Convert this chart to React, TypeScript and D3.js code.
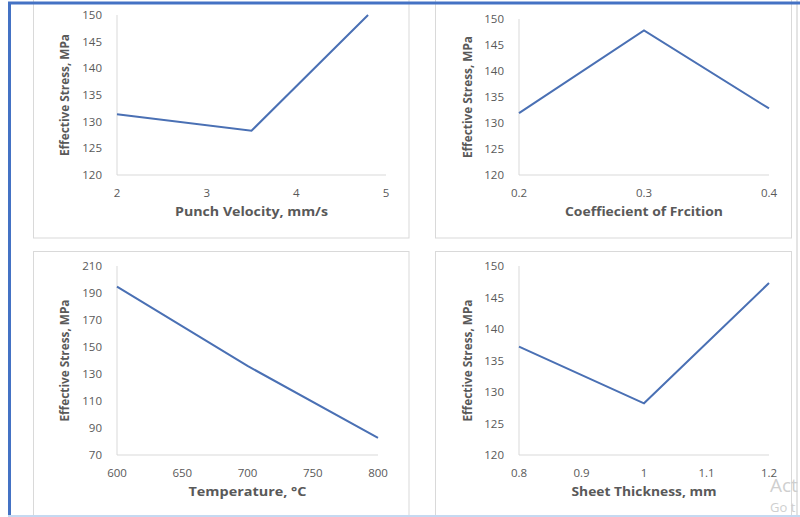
import React from "react";
import * as d3 from "d3";

// ---- data ----
const velocityX = [2, 3.5, 4.8];
const velocityY = [131.4, 128.3, 150];
const velocityTicks = [2, 3, 4, 5];

const frictionX = [0.2, 0.3, 0.4];
const frictionY = [131.9, 147.8, 132.8];
const frictionTicks = [0.2, 0.3, 0.4];

const temperatureX = [600, 700, 800];
const temperatureY = [194.7, 136, 82.6];
const temperatureTicks = [600, 650, 700, 750, 800];
const temperatureYTicks = [70, 90, 110, 130, 150, 170, 190, 210];

const thicknessX = [0.8, 1, 1.2];
const thicknessY = [137.2, 128.2, 147.3];
const thicknessTicks = [0.8, 0.9, 1, 1.1, 1.2];

const stressTicks = [120, 125, 130, 135, 140, 145, 150];

const yTitle = "Effective Stress, MPa";
const xTitles = [
  "Punch Velocity, mm/s",
  "Coeffiecient of Frcition",
  "Temperature, \u00B0C",
  "Sheet Thickness, mm",
];

// ---- layout / style ----
const W = 800;
const H = 517;
const TEXT = "#595959";
const AXIS = "#d9d9d9";
const LINE = "#4a70b4";
const FONT = "'Open Sans', 'Noto Sans', sans-serif";

type PanelProps = {
  xs: number[];
  ys: number[];
  xTicks: number[];
  yTicks: number[];
  left: number;
  right: number;
  top: number;
  bottom: number;
  title: string;
  titleLen: number;
  yTitleX: number;
};

function Panel(p: PanelProps) {
  const x = d3
    .scaleLinear()
    .domain([p.xTicks[0], p.xTicks[p.xTicks.length - 1]])
    .range([p.left, p.right]);
  const y = d3
    .scaleLinear()
    .domain([p.yTicks[0], p.yTicks[p.yTicks.length - 1]])
    .range([p.bottom, p.top]);
  const pts: [number, number][] = p.xs.map((v, i) => [v, p.ys[i]]);
  const line = d3
    .line<[number, number]>()
    .x((d) => x(d[0]))
    .y((d) => y(d[1]));
  const midY = (p.top + p.bottom) / 2;
  return (
    <g>
      <line x1={p.left} x2={p.left} y1={p.top} y2={p.bottom} stroke={AXIS} strokeWidth={1} />
      <line x1={p.left} x2={p.right} y1={p.bottom} y2={p.bottom} stroke={AXIS} strokeWidth={1} />
      {p.yTicks.map((t) => (
        <text
          key={"y" + t}
          x={p.left - 15}
          y={y(t)}
          dy="0.35em"
          textAnchor="end"
          fontSize={11.5}
          fill={TEXT}
          fontFamily={FONT}
        >
          {String(t)}
        </text>
      ))}
      {p.xTicks.map((t) => (
        <text
          key={"x" + t}
          x={x(t)}
          y={p.bottom + 18}
          dy="0.35em"
          textAnchor="middle"
          fontSize={11.5}
          fill={TEXT}
          fontFamily={FONT}
        >
          {String(t)}
        </text>
      ))}
      <text
        x={(p.left + p.right) / 2}
        y={p.bottom + 37}
        dy="0.35em"
        textAnchor="middle"
        fontSize={12.5}
        fontWeight="bold"
        fill={TEXT}
        fontFamily={FONT}
        textLength={p.titleLen}
        lengthAdjust="spacingAndGlyphs"
      >
        {p.title}
      </text>
      <text
        transform={`translate(${p.yTitleX},${midY}) rotate(-90)`}
        dy="0.35em"
        textAnchor="middle"
        fontSize={12}
        fontWeight="bold"
        fill={TEXT}
        fontFamily={FONT}
        textLength={122}
        lengthAdjust="spacingAndGlyphs"
      >
        {yTitle}
      </text>
      <path d={line(pts) || ""} fill="none" stroke={LINE} strokeWidth={2} strokeLinejoin="miter" />
    </g>
  );
}

export default function App() {
  return (
    <svg
      width={W}
      height={H}
      style={{ position: "absolute", left: 0, top: 0, background: "#fff" }}
    >
      <rect x={0} y={0} width={W} height={H} fill="#ffffff" />
      {/* cards */}
      <rect x={33.5} y={-2} width={375.5} height={240} fill="#fff" stroke={AXIS} strokeWidth={1} />
      <rect x={435.5} y={-2} width={356} height={240} fill="#fff" stroke={AXIS} strokeWidth={1} />
      <rect x={33.5} y={251.5} width={375.5} height={280} fill="#fff" stroke={AXIS} strokeWidth={1} />
      <rect x={435.5} y={251.5} width={356} height={280} fill="#fff" stroke={AXIS} strokeWidth={1} />
      <rect x={796} y={0} width={2} height={H} fill="#e4e4e4" />

      <Panel
        xs={velocityX}
        ys={velocityY}
        xTicks={velocityTicks}
        yTicks={stressTicks}
        left={117}
        right={386}
        top={15}
        bottom={175}
        title={xTitles[0]}
        titleLen={153}
        yTitleX={65}
      />
      <Panel
        xs={frictionX}
        ys={frictionY}
        xTicks={frictionTicks}
        yTicks={stressTicks}
        left={519}
        right={769}
        top={19}
        bottom={175}
        title={xTitles[1]}
        titleLen={158}
        yTitleX={468}
      />
      <Panel
        xs={temperatureX}
        ys={temperatureY}
        xTicks={temperatureTicks}
        yTicks={temperatureYTicks}
        left={117}
        right={378}
        top={266}
        bottom={455}
        title={xTitles[2]}
        titleLen={118}
        yTitleX={65}
      />
      <Panel
        xs={thicknessX}
        ys={thicknessY}
        xTicks={thicknessTicks}
        yTicks={stressTicks}
        left={519}
        right={769}
        top={266}
        bottom={455}
        title={xTitles[3]}
        titleLen={145}
        yTitleX={468}
      />

      {/* watermark (visible part) */}
      <text x={770} y={492} fontSize={19} fill="#cfcfcf" fontFamily={FONT}>
        Act
      </text>
      <text x={770} y={512} fontSize={13} fill="#cfcfcf" fontFamily={FONT}>
        Go t
      </text>

      {/* frame */}
      <line x1={9.5} x2={9.5} y1={2} y2={H} stroke="#4472c4" strokeWidth={3} />
      <line x1={8} x2={W} y1={3} y2={3} stroke="#4472c4" strokeWidth={3} />
      <line x1={8} x2={W} y1={516} y2={516} stroke="#c5d9f1" strokeWidth={2} />
    </svg>
  );
}
